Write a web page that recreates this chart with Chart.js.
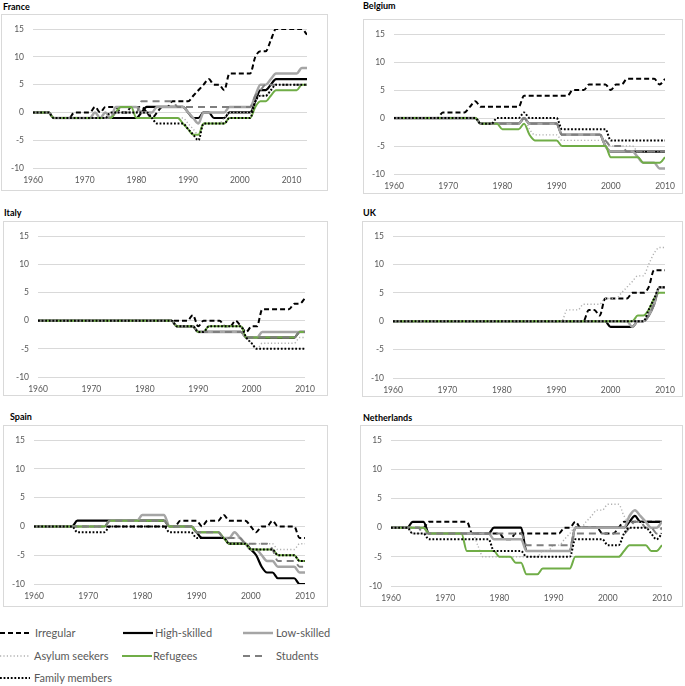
<!DOCTYPE html>
<html>
<head>
<meta charset="utf-8">
<script src="https://cdn.jsdelivr.net/npm/chart.js@4.4.0/dist/chart.umd.min.js"></script>
<style>
    body { margin: 0; background: #fff; width: 685px; height: 686px; position: relative; overflow: hidden; font-family: Lato, sans-serif; }
    .title { position: absolute; font: bold 9px Lato, sans-serif; color: #000; line-height: 11px; }
    .frame { position: absolute; border: 1px solid #d9d9d9; box-sizing: border-box; }
    .frame div { position: absolute; left: 0; top: 0; width: 100%; height: 100%; }
    .leg { position: absolute; font: 11px Lato, sans-serif; color: #595959; white-space: nowrap; line-height: 14px; }
    #legendLines { position: absolute; left: 0; top: 620px; }
</style>
</head>
<body>
<div id="panels"></div>
<svg id="legendLines" width="300" height="66"></svg>
<div id="legendText"></div>

<script>
var seriesNames = ['Irregular', 'High-skilled', 'Low-skilled', 'Asylum seekers', 'Refugees', 'Students', 'Family members'];

var yearsFrance = [1960,1961,1962,1963,1964,1965,1966,1967,1968,1969,1970,1971,1972,1973,1974,1975,1976,1977,1978,1979,
    1980,1981,1982,1983,1984,1985,1986,1987,1988,1989,1990,1991,1992,1993,1994,1995,1996,1997,1998,1999,
    2000,2001,2002,2003,2004,2005,2006,2007,2008,2009,2010,2011,2012,2013];
var years = [1960,1961,1962,1963,1964,1965,1966,1967,1968,1969,1970,1971,1972,1973,1974,1975,1976,1977,1978,1979,
    1980,1981,1982,1983,1984,1985,1986,1987,1988,1989,1990,1991,1992,1993,1994,1995,1996,1997,1998,1999,
    2000,2001,2002,2003,2004,2005,2006,2007,2008,2009,2010];

var xTicks = [1960, 1970, 1980, 1990, 2000, 2010];
var yTicks = [-10, -5, 0, 5, 10, 15];

// France
var frIrregular = [0,0,0,0,-1,-1,-1,-1,0,0, 0,0,1,0,1,1,1,0,0,1, 1,1,0,-1,0,1,1,2,2,2, 2,3,4,5,6,5,5,4,7,7, 7,7,7,10,11,11,13,15,15,15, 15,15,15,14];
var frHigh = [0,0,0,0,-1,-1,-1,-1,-1,-1, -1,-1,-1,-1,-1,-1,-1,-1,-1,-1, -1,0,1,1,1,1,1,1,1,1, 0,-1,-1,0,0,-1,-1,-1,0,0, 0,0,0,2,4,4,5,6,6,6, 6,6,6,6];
var frLow = [0,0,0,0,-1,-1,-1,-1,-1,-1, -1,-1,0,-1,0,-1,1,1,1,1, 1,0,0,0,1,1,1,1,1,1, 0,-1,-2,0,0,0,0,0,1,1, 1,1,1,3,5,5,6,7,7,7, 7,7,8,8];
var frAsylum = [0,0,0,0,-1,-1,-1,-1,-1,-1, -1,-1,-1,-1,-1,0,0,0,0,0, 0,0,0,-1,-1,-1,-1,-1,-1,-1, -2,-3,-4,-2,-2,-2,-2,-1,0,0, 0,0,0,2,3,3,4,5,5,5, 5,5,5,5];
var frRefugees = [0,0,0,0,-1,-1,-1,-1,-1,-1, -1,-1,-1,-1,-1,-1,0,1,1,1, -1,-1,-1,-1,-1,-1,-1,-1,-1,-2, -3,-4,-4,-2,-2,-2,-2,-2,-1,-1, -1,-1,-1,1,2,2,3,4,4,4, 4,4,5,5];
var frStudents = [0,0,0,0,-1,-1,-1,-1,-1,-1, -1,-1,-1,-1,-1,-1,0,0,0,0, 0,2,2,2,2,2,2,2,1,1, 1,1,1,1,1,1,1,1,1,1, 1,1,1,3,4,5,5,5,5,5, 5,5,5,5];
var frFamily = [0,0,0,0,-1,-1,-1,-1,-1,-1, -1,-1,-1,-1,-1,0,0,0,0,0, 0,0,0,-1,-2,-2,-2,-2,-2,-2, -3,-4,-5,-2,-2,-2,-2,-2,-1,-1, -1,-1,-1,2,3,3,4,5,5,5, 5,5,5,5];

// Belgium
var beIrregular = [0,0,0,0,0,0,0,0,0,1, 1,1,1,1,2,3,2,2,2,2, 2,2,2,2,4,4,4,4,4,4, 4,4,4,5,5,5,6,6,6,6, 5,6,6,7,7,7,7,7,7,6, 7];
var beHigh = [0,0,0,0,0,0,0,0,0,0, 0,0,0,0,0,0,-1,-1,-1,-1, -1,-1,-1,-1,0,-1,-1,-1,-1,-1, -1,-3,-3,-3,-3,-3,-3,-3,-3,-5, -6,-6,-6,-6,-6,-6,-6,-6,-6,-6, -6];
var beLow = [0,0,0,0,0,0,0,0,0,0, 0,0,0,0,0,0,-1,-1,-1,-1, -1,-1,-1,-1,0,-1,-1,-1,-1,-1, -1,-3,-3,-3,-3,-3,-3,-3,-3,-5, -6,-6,-6,-6,-6,-7,-8,-8,-8,-9, -9];
var beAsylum = [0,0,0,0,0,0,0,0,0,0, 0,0,0,0,0,0,-1,-1,-1,-1, -1,-1,-1,-1,0,-2,-3,-3,-3,-3, -3,-4,-4,-4,-4,-4,-4,-4,-4,-4, -5,-5,-5,-5,-5,-6,-6,-6,-6,-6, -6];
var beRefugees = [0,0,0,0,0,0,0,0,0,0, 0,0,0,0,0,0,-1,-1,-1,-1, -2,-2,-2,-2,-1,-3,-4,-4,-4,-4, -4,-5,-5,-5,-5,-5,-5,-5,-5,-5, -7,-7,-7,-7,-7,-7,-8,-8,-8,-8, -7];
var beStudents = [0,0,0,0,0,0,0,0,0,0, 0,0,0,0,0,0,-1,-1,-1,-1, -1,-1,-1,-1,0,-1,-1,-1,-1,-1, -1,-3,-3,-3,-3,-3,-3,-3,-3,-4, -5,-5,-5,-6,-6,-6,-6,-6,-6,-6, -6];
var beFamily = [0,0,0,0,0,0,0,0,0,0, 0,0,0,0,0,0,-1,-1,-1,0, 0,0,0,0,1,0,0,0,0,0, 0,-2,-2,-2,-2,-2,-2,-2,-2,-2, -4,-4,-4,-4,-4,-4,-4,-4,-4,-4, -4];

// Italy
var itIrregular = [0,0,0,0,0,0,0,0,0,0, 0,0,0,0,0,0,0,0,0,0, 0,0,0,0,0,0,0,0,0,1, -1,0,0,0,0,-1,-1,0,-1,-2, -1,-1,2,2,2,2,2,2,3,3, 4];
var itHigh = [0,0,0,0,0,0,0,0,0,0, 0,0,0,0,0,0,0,0,0,0, 0,0,0,0,0,0,-1,-1,-1,-1, -2,-2,-2,-2,-2,-2,-2,-2,-2,-3, -3,-3,-3,-3,-3,-3,-3,-3,-3,-2, -2];
var itLow = [0,0,0,0,0,0,0,0,0,0, 0,0,0,0,0,0,0,0,0,0, 0,0,0,0,0,0,-1,-1,-1,-1, -2,-2,-2,-2,-2,-2,-2,-2,-2,-3, -3,-3,-2,-2,-2,-2,-2,-2,-2,-2, -2];
var itAsylum = [0,0,0,0,0,0,0,0,0,0, 0,0,0,0,0,0,0,0,0,0, 0,0,0,0,0,0,-1,-1,-1,-1, -2,-2,-2,-2,-2,-2,-2,-2,-2,-3, -4,-5,-4,-4,-4,-4,-4,-4,-4,-3, -3];
var itRefugees = [0,0,0,0,0,0,0,0,0,0, 0,0,0,0,0,0,0,0,0,0, 0,0,0,0,0,0,-1,-1,-1,-1, -2,-2,-1,-1,-1,-1,-1,-1,-1,-3, -3,-3,-3,-3,-3,-3,-3,-3,-3,-2, -2];
var itStudents = [0,0,0,0,0,0,0,0,0,0, 0,0,0,0,0,0,0,0,0,0, 0,0,0,0,0,0,-1,-1,-1,-1, -2,-2,-2,-2,-2,-2,-2,-2,-2,-3, -3,-3,-3,-3,-3,-3,-3,-3,-3,-2, -2];
var itFamily = [0,0,0,0,0,0,0,0,0,0, 0,0,0,0,0,0,0,0,0,0, 0,0,0,0,0,0,-1,-1,-1,-1, -2,-2,-1,-1,-1,-1,-1,-1,-1,-3, -4,-5,-5,-5,-5,-5,-5,-5,-5,-5, -5];

// UK
var ukIrregular = [0,0,0,0,0,0,0,0,0,0, 0,0,0,0,0,0,0,0,0,0, 0,0,0,0,0,0,0,0,0,0, 0,0,0,0,0,0,2,2,1,4, 4,4,4,4,5,5,5,6,9,9, 9];
var ukHigh = [0,0,0,0,0,0,0,0,0,0, 0,0,0,0,0,0,0,0,0,0, 0,0,0,0,0,0,0,0,0,0, 0,0,0,0,0,0,0,0,0,0, -1,-1,-1,-1,-1,0,0,1,3,6, 6];
var ukLow = [0,0,0,0,0,0,0,0,0,0, 0,0,0,0,0,0,0,0,0,0, 0,0,0,0,0,0,0,0,0,0, 0,0,0,0,0,0,0,0,0,0, 0,0,0,0,-1,0,0,1,3,6, 6];
var ukAsylum = [0,0,0,0,0,0,0,0,0,0, 0,0,0,0,0,0,0,0,0,0, 0,0,0,0,0,0,0,0,0,0, 0,0,2,2,2,3,3,3,3,4, 4,4,5,6,7,8,8,10,12,13, 13];
var ukRefugees = [0,0,0,0,0,0,0,0,0,0, 0,0,0,0,0,0,0,0,0,0, 0,0,0,0,0,0,0,0,0,0, 0,0,0,0,0,0,0,0,0,0, 0,0,0,0,0,1,1,2,4,5, 5];
var ukStudents = [0,0,0,0,0,0,0,0,0,0, 0,0,0,0,0,0,0,0,0,0, 0,0,0,0,0,0,0,0,0,0, 0,0,0,0,0,0,0,0,0,0, 0,0,0,0,0,0,0,1,3,6, 6];
var ukFamily = [0,0,0,0,0,0,0,0,0,0, 0,0,0,0,0,0,0,0,0,0, 0,0,0,0,0,0,0,0,0,0, 0,0,0,0,0,0,0,0,0,0, 0,0,0,0,0,0,0,2,4,6, 6];

// Spain
var esIrregular = [0,0,0,0,0,0,0,0,0,0, 0,0,0,0,0,0,0,0,0,0, 0,0,0,0,0,0,0,1,1,1, 1,0,1,1,1,2,1,1,1,1, 0,-1,0,0,1,0,0,0,0,-2, -2];
var esHigh = [0,0,0,0,0,0,0,0,1,1, 1,1,1,1,1,1,1,1,1,1, 1,1,1,1,1,0,0,0,0,0, -1,-2,-2,-2,-2,-2,-3,-3,-3,-3, -4,-5,-7,-8,-8,-9,-9,-9,-9,-10, -10];
var esLow = [0,0,0,0,0,0,0,0,0,0, 0,0,0,0,1,1,1,1,1,1, 2,2,2,2,2,0,0,0,0,0, -1,-1,-1,-1,-1,-2,-2,-1,-2,-3, -4,-4,-5,-6,-6,-7,-7,-7,-7,-8, -8];
var esAsylum = [0,0,0,0,0,0,0,0,0,0, 0,0,0,0,1,1,1,1,1,1, 1,1,1,1,1,0,0,0,0,0, -1,-1,-1,-1,-1,-2,-2,-2,-2,-3, -3,-3,-3,-3,-3,-4,-4,-4,-4,-3, -3];
var esRefugees = [0,0,0,0,0,0,0,0,0,0, 0,0,0,0,1,1,1,1,1,1, 1,1,1,1,1,0,0,0,0,0, -1,-1,-1,-1,-1,-2,-3,-3,-3,-3, -4,-4,-4,-4,-4,-5,-5,-5,-5,-6, -6];
var esStudents = [0,0,0,0,0,0,0,0,0,0, 0,0,0,0,1,1,1,1,1,1, 1,1,1,1,1,0,0,0,0,0, -1,-1,-1,-1,-1,-2,-2,-2,-2,-3, -3,-3,-3,-3,-4,-6,-6,-6,-6,-7, -7];
var esFamily = [0,0,0,0,0,0,0,0,-1,-1, -1,-1,-1,-1,0,0,0,0,0,0, 0,0,0,0,0,-1,-1,-1,-1,-1, -2,-2,-2,-2,-2,-2,-3,-3,-3,-3, -4,-4,-4,-4,-4,-5,-5,-5,-5,-6, -6];

// Netherlands
var nlIrregular = [0,0,0,0,0,0,0,1,1,1, 1,1,1,1,1,-1,-1,-1,-1,-1, -1,-2,-2,-1,-1,-1,-1,-1,-1,-1, -1,-1,0,0,1,0,0,0,0,-1, -1,-1,0,1,1,1,1,1,1,1, 1];
var nlHigh = [0,0,0,0,1,1,1,-1,-1,-1, -1,-1,-1,-1,-1,-1,-1,-1,-1,0, 0,0,0,0,0,-4,-4,-4,-4,-4, -4,-4,-4,-4,0,0,0,0,0,0, 0,0,0,0,1,2,1,1,1,1, 1];
var nlLow = [0,0,0,0,0,0,0,-1,-1,-1, -1,-1,-1,-1,-1,-1,-1,-1,-1,-2, -2,-2,-2,-2,-2,-4,-4,-4,-4,-4, -4,-4,-4,-4,0,0,0,0,0,0, 0,0,0,0,2,3,2,1,0,0, 1];
var nlAsylum = [0,0,0,0,-1,-1,-1,-1,-1,-1, -1,-1,-1,-1,-1,-1,-3,-5,-5,-5, -5,-5,-5,-5,-5,-5,-5,-5,-4,-4, -3,-3,-2,-1,0,0,1,2,3,3, 4,4,4,2,1,1,1,0,0,-1, -1];
var nlRefugees = [0,0,0,0,0,0,0,-1,-1,-1, -1,-1,-1,-1,-4,-4,-4,-4,-4,-4, -5,-5,-5,-6,-6,-8,-8,-8,-7,-7, -7,-7,-7,-7,-5,-5,-5,-5,-5,-5, -5,-5,-5,-4,-3,-3,-3,-3,-4,-4, -3];
var nlStudents = [0,0,0,0,0,0,-1,-1,-1,-1, -1,-1,-1,-1,-1,-1,-1,-1,-1,-1, -1,-1,-1,-1,-1,-3,-3,-3,-3,-3, -3,-3,-3,-3,-1,-1,-1,-1,-1,-1, -1,-1,-1,-1,0,1,1,0,0,-1, 0];
var nlFamily = [0,0,0,0,-1,-1,-1,-2,-2,-2, -2,-2,-2,-2,-2,-2,-2,-2,-2,-4, -4,-4,-4,-4,-4,-5,-5,-5,-5,-5, -5,-5,-5,-5,-2,-2,-2,-2,-2,-2, -3,-3,-3,-1,0,0,0,0,-1,-2, -1];

// Line styles, same order as seriesNames
var styles = [
    { color: '#000000', width: 2, dash: [5, 3] },
    { color: '#000000', width: 2.2, dash: [] },
    { color: '#a5a5a5', width: 2.5, dash: [] },
    { color: '#b0b0b0', width: 1.4, dash: [1.2, 2.2] },
    { color: '#70ad47', width: 2, dash: [] },
    { color: '#7f7f7f', width: 2, dash: [7, 5] },
    { color: '#000000', width: 2, dash: [1.8, 1.8] }
];

// frame position and plot padding [left, top, right, bottom]
var panels = [
    { title: 'France', years: yearsFrance, max: 2013, tx: 3, ty: 1, x: 1, y: 14, w: 327, h: 177, pad: [31, 10, 20, 22],
        data: [frIrregular, frHigh, frLow, frAsylum, frRefugees, frStudents, frFamily] },
    { title: 'Belgium', years: years, max: 2010, tx: 363, ty: 0, x: 363, y: 19, w: 320, h: 175, pad: [30, 9, 17, 19],
        data: [beIrregular, beHigh, beLow, beAsylum, beRefugees, beStudents, beFamily] },
    { title: 'Italy', years: years, max: 2010, tx: 4, ty: 207, x: 3, y: 221, w: 325, h: 175, pad: [34, 8, 22, 18],
        data: [itIrregular, itHigh, itLow, itAsylum, itRefugees, itStudents, itFamily] },
    { title: 'UK', years: years, max: 2010, tx: 363, ty: 207, x: 362, y: 221, w: 321, h: 176, pad: [30, 8, 17, 18],
        data: [ukIrregular, ukHigh, ukLow, ukAsylum, ukRefugees, ukStudents, ukFamily] },
    { title: 'Spain', years: years, max: 2010, tx: 10, ty: 411, x: 3, y: 425, w: 325, h: 182, pad: [30, 10, 22, 22],
        data: [esIrregular, esHigh, esLow, esAsylum, esRefugees, esStudents, esFamily] },
    { title: 'Netherlands', years: years, max: 2010, tx: 363, ty: 412, x: 360, y: 425, w: 323, h: 182, pad: [30, 10, 20, 20],
        data: [nlIrregular, nlHigh, nlLow, nlAsylum, nlRefugees, nlStudents, nlFamily] }
];

var tickFont = { family: 'Lato', size: 8.5 };
var holder = document.getElementById('panels');

panels.forEach(function (p) {
    var title = document.createElement('div');
    title.className = 'title';
    title.style.left = p.tx + 'px';
    title.style.top = p.ty + 'px';
    title.textContent = p.title;
    holder.appendChild(title);

    var frame = document.createElement('div');
    frame.className = 'frame';
    frame.style.left = p.x + 'px';
    frame.style.top = p.y + 'px';
    frame.style.width = p.w + 'px';
    frame.style.height = p.h + 'px';
    var inner = document.createElement('div');
    var canvas = document.createElement('canvas');
    inner.appendChild(canvas);
    frame.appendChild(inner);
    holder.appendChild(frame);

    var datasets = seriesNames.map(function (name, i) {
        return {
            label: name,
            data: p.data[i].map(function (v, k) { return { x: p.years[k], y: v }; }),
            borderColor: styles[i].color,
            borderWidth: styles[i].width,
            borderDash: styles[i].dash,
            pointRadius: 0,
            fill: false,
            cubicInterpolationMode: 'monotone',
            order: 6 - i
        };
    });

    new Chart(canvas, {
        type: 'line',
        data: { datasets: datasets },
        options: {
            responsive: true,
            maintainAspectRatio: false,
            animation: false,
            layout: { padding: { top: p.pad[1], right: p.pad[2], left: 0, bottom: 0 } },
            plugins: { legend: { display: false }, tooltip: { enabled: false } },
            scales: {
                x: {
                    type: 'linear',
                    min: 1960,
                    max: p.max,
                    afterBuildTicks: function (axis) { axis.ticks = xTicks.map(function (v) { return { value: v }; }); },
                    afterFit: function (scale) { scale.height = p.pad[3]; },
                    grid: { display: false, drawTicks: false },
                    border: { display: false },
                    ticks: {
                        color: '#595959', font: tickFont, padding: 7, maxRotation: 0, autoSkip: false,
                        callback: function (value) { return String(value); }
                    }
                },
                y: {
                    min: -10,
                    max: 15,
                    afterBuildTicks: function (axis) { axis.ticks = yTicks.map(function (v) { return { value: v }; }); },
                    afterFit: function (scale) { scale.width = p.pad[0]; },
                    grid: { color: '#d9d9d9', drawTicks: false },
                    border: { display: false },
                    ticks: { color: '#595959', font: tickFont, padding: 9 }
                }
            }
        }
    });
});

// Legend: [sample x0, sample x1, text x, row y]
var legendSpots = [
    [0, 30, 35, 633], [123, 153, 155, 633], [243, 273, 276, 633],
    [0, 30, 34, 656], [122, 152, 153, 656], [243, 263, 276, 656],
    [0, 30, 34, 678]
];
var svg = document.getElementById('legendLines');
var legendText = document.getElementById('legendText');
seriesNames.forEach(function (name, i) {
    var s = legendSpots[i];
    var line = document.createElementNS('http://www.w3.org/2000/svg', 'line');
    line.setAttribute('x1', s[0]);
    line.setAttribute('x2', s[1]);
    line.setAttribute('y1', s[3] - 620);
    line.setAttribute('y2', s[3] - 620);
    line.setAttribute('stroke', styles[i].color);
    line.setAttribute('stroke-width', styles[i].width);
    if (styles[i].dash.length) {
        line.setAttribute('stroke-dasharray', styles[i].dash.join(' '));
    }
    svg.appendChild(line);

    var t = document.createElement('div');
    t.className = 'leg';
    t.style.left = s[2] + 'px';
    t.style.top = (s[3] - 7) + 'px';
    t.textContent = name;
    legendText.appendChild(t);
});
</script>
</body>
</html>
